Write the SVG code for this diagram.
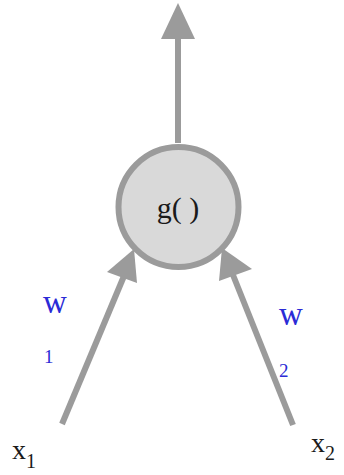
<svg xmlns="http://www.w3.org/2000/svg" width="344" height="475" viewBox="0 0 344 475">
<style>
.edge{stroke:#9b9b9b;stroke-width:6;fill:none}
.head{fill:#9b9b9b}
.lbl{font-family:"Liberation Serif",serif;fill:#1a1a1a}
.wt{font-family:"Liberation Serif",serif;fill:#2b2bd6}
</style>
<rect width="344" height="475" fill="#ffffff"/>
<g id="connectors">
<line class="edge" x1="178" y1="143" x2="178" y2="36"/>
<polygon class="head" points="178,3 161,39 195,39"/>
<line class="edge" x1="62" y1="424" x2="124" y2="276"/>
<polygon class="head" points="134,249 107,272 137,283"/>
<line class="edge" x1="293" y1="425" x2="233" y2="275"/>
<polygon class="head" points="222,248 219,281 252,269"/>
</g>
<g id="g">
<circle cx="178.5" cy="207" r="60" fill="#d9d9d9" stroke="#9b9b9b" stroke-width="6"/>
<text class="lbl" x="178" y="218" font-size="30" text-anchor="middle">g( )</text>
</g>
<g id="x1">
<text class="lbl" x="12" y="459" font-size="28">x<tspan font-size="20" dy="9">1</tspan></text>
</g>
<g id="x2">
<text class="lbl" x="311" y="452" font-size="28">x<tspan font-size="20" dy="8">2</tspan></text>
</g>
<g id="w1">
<text class="wt" x="43" y="313" font-size="33">w</text>
<text class="wt" x="44" y="363" font-size="19">1</text>
</g>
<g id="w2">
<text class="wt" x="279" y="325" font-size="33">w</text>
<text class="wt" x="279" y="377" font-size="19">2</text>
</g>
</svg>
